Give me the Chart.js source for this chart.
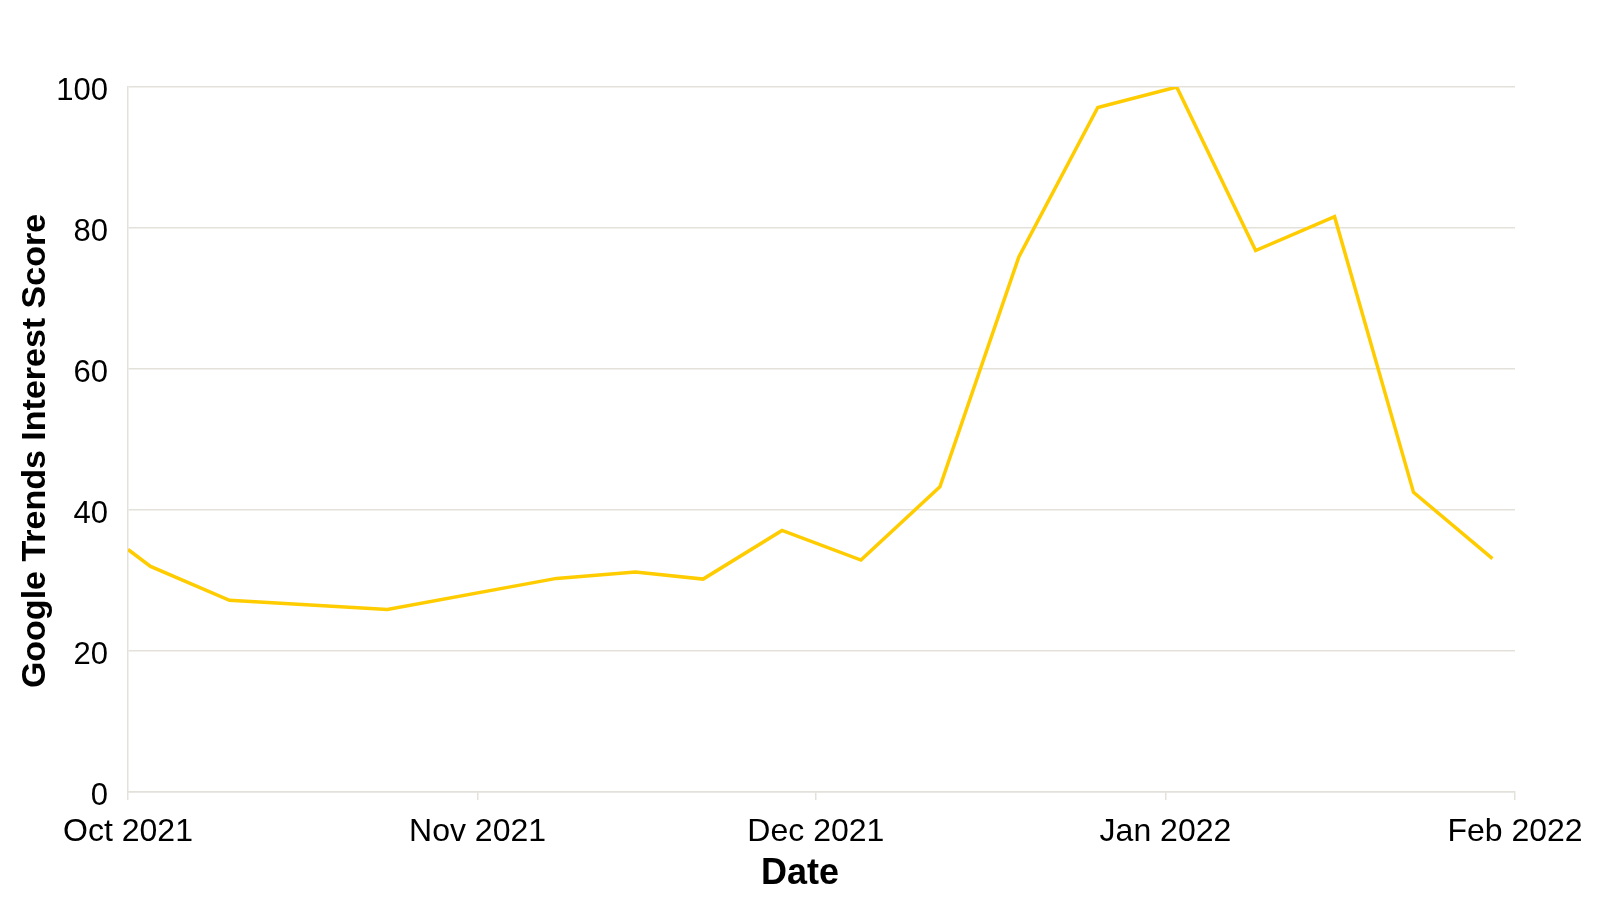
<!DOCTYPE html>
<html>
<head>
<meta charset="utf-8">
<script src="https://cdn.jsdelivr.net/npm/chart.js@4.4.1/dist/chart.umd.min.js"></script>
<style>
  html, body { margin: 0; padding: 0; background: #ffffff; }
  #wrap { width: 1600px; height: 903px; position: relative; }
</style>
</head>
<body>
<div id="wrap"><canvas id="c" width="1600" height="903"></canvas></div>
<script>
// ---- data ----
const dates = ['2021-10-01','2021-10-03','2021-10-10','2021-10-24','2021-11-08','2021-11-15','2021-11-21','2021-11-28',
               '2021-12-05','2021-12-12','2021-12-19','2021-12-26','2022-01-02','2022-01-09','2022-01-16','2022-01-23','2022-01-30'];
const interest = [34.4, 32.0, 27.2, 25.9, 30.3, 31.2, 30.2, 37.1,
                  32.9, 43.3, 75.9, 97.1, 100, 76.8, 81.6, 42.5, 33.1];
const tickDates = ['2021-10-01','2021-11-01','2021-12-01','2022-01-01','2022-02-01'];
const tickLabels = ['Oct 2021','Nov 2021','Dec 2021','Jan 2022','Feb 2022'];
const yTicks = [0, 20, 40, 60, 80, 100];
const xTitle = 'Date';
const yTitle = 'Google Trends Interest Score';

// ---- helpers ----
const origin = Date.UTC(2021, 9, 1);
function dayOf(s) {
  const p = s.split('-').map(Number);
  return (Date.UTC(p[0], p[1] - 1, p[2]) - origin) / 86400000;
}
const points = dates.map((d, i) => ({ x: dayOf(d), y: interest[i] }));
const tickDays = tickDates.map(dayOf);

const FONT = '"Liberation Sans", Arial, Helvetica, sans-serif';
const GRID = '#e4e1db';

const titlePlugin = {
  id: 'axisTitles',
  afterDraw(chart) {
    const ctx = chart.ctx;
    ctx.save();
    ctx.fillStyle = '#000';
    ctx.textAlign = 'center';
    ctx.textBaseline = 'alphabetic';
    ctx.font = 'bold 36px ' + FONT;
    ctx.fillText(xTitle, 800, 884);
    ctx.font = 'bold 34px ' + FONT;
    ctx.translate(45, 451);
    ctx.rotate(-Math.PI / 2);
    ctx.fillText(yTitle, 0, 0);
    ctx.restore();
  }
};

new Chart(document.getElementById('c'), {
  type: 'line',
  data: {
    datasets: [{
      data: points,
      borderColor: '#FFCC00',
      borderWidth: 3.5,
      pointRadius: 0,
      pointHoverRadius: 0,
      fill: false,
      tension: 0
    }]
  },
  options: {
    responsive: false,
    animation: false,
    devicePixelRatio: 1,
    layout: { padding: { top: 87, right: 85, left: 0, bottom: 0 } },
    plugins: { legend: { display: false }, tooltip: { enabled: false } },
    scales: {
      x: {
        type: 'linear',
        min: tickDays[0],
        max: tickDays[tickDays.length - 1],
        afterBuildTicks(s) { s.ticks = tickDays.map(v => ({ value: v })); },
        afterFit(s) { s.height = 111; },
        ticks: {
          autoSkip: false,
          maxRotation: 0,
          padding: 13,
          color: '#000',
          font: { family: FONT, size: 32 },
          callback(v) { const i = tickDays.indexOf(v); return i >= 0 ? tickLabels[i] : ''; }
        },
        grid: { drawOnChartArea: false, drawTicks: true, tickLength: 8, color: GRID, lineWidth: 1.5 },
        border: { display: true, color: GRID, width: 1.5 }
      },
      y: {
        min: 0,
        max: 100,
        afterBuildTicks(s) { s.ticks = yTicks.map(v => ({ value: v })); },
        afterFit(s) { s.width = 128; },
        ticks: {
          padding: 20,
          labelOffset: 4,
          color: '#000',
          font: { family: FONT, size: 31 }
        },
        grid: { drawTicks: false, color: GRID, lineWidth: 1.5 },
        border: { display: true, color: GRID, width: 1.5 }
      }
    }
  },
  plugins: [titlePlugin]
});
</script>
</body>
</html>
